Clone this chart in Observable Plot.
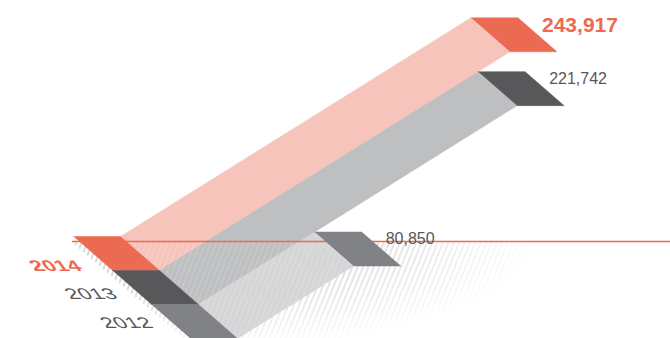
<!DOCTYPE html>
<html><head><meta charset="utf-8">
<script src="https://cdn.jsdelivr.net/npm/d3@7"></script>
<script src="https://cdn.jsdelivr.net/npm/@observablehq/plot@0.6"></script>
<style>
html,body{margin:0;padding:0;background:#fff;}
#chart{width:670px;height:338px;overflow:hidden;}
</style>
</head><body><div id="chart"></div>
<script>
// ---- data ----
const years = ["2014", "2013", "2012"];
const values = [243917, 221742, 80850];

// ---- styles ----
const tileColors = ["#EC6A52", "#58585A", "#818285"];
const bandColors = ["#F6C4BB", "#BDBFC1", "#D4D5D6"];
const labelColors = ["#EC6A52", "#58585A", "#58585A"];
const lineColor = "#EC6A52";

// ---- layout / oblique projection ----
const W = 670, H = 338;
const origin = [73, 236];      // top-left corner of first floor tile
const tileW = 47;              // tile width along x
const depth = [39, 34];        // one year step along the depth axis
const kPx = 0.001437;          // px (horizontal) per unit of value
const slope = -0.624;          // value axis direction dy/dx
const floorY = 241;
const proj = (i, w, v) => [
  origin[0] + i * depth[0] + w * tileW + v * kPx,
  origin[1] + i * depth[1] + v * kPx * slope
];
const poly = (id, color, pts) => pts.map(p => ({id, color, x: p[0], y: p[1]}));

const bands = [], tiles = [], caps = [];
years.forEach((yr, i) => {
  const v = values[i];
  tiles.push(...poly("t" + yr, tileColors[i], [proj(i,0,0), proj(i,1,0), proj(i+1,1,0), proj(i+1,0,0)]));
  bands.push(...poly("b" + yr, bandColors[i], [proj(i,1,0), proj(i,1,v), proj(i+1,1,v), proj(i+1,1,0)]));
  caps.push(...poly("c" + yr, tileColors[i], [proj(i,1,v), proj(i,2,v), proj(i+1,2,v), proj(i+1,1,v)]));
});

// floor hatch region (decorative)
const r = depth[0] / depth[1];
const fx0 = origin[0] - 7 + (floorY - origin[1]) * r;
const floor = poly("floor", "#000", [[fx0, floorY + 1], [fx0 + (H - floorY) * r, H], [640, H], [640, floorY + 1]]);

const valueLabels = years.map((yr, i) => {
  const p = proj(i, 2, values[i]);
  return {x: p[0] + 24, y: p[1] + 7, text: d3.format(",")(values[i]), color: labelColors[i], i};
});
const yearAnchor = [83, 270], yearStep = [35.5, 28.5];
const yearLabels = years.map((yr, i) => ({x: yearAnchor[0] + i * yearStep[0], y: yearAnchor[1] + i * yearStep[1], text: yr, color: labelColors[i], i}));

const polyMark = (data, cls) => Plot.line(data, {x: "x", y: "y", z: "id", fill: "color", stroke: "color", strokeWidth: 0.5, curve: "linear", className: cls});
const yearText = (data, weight) => Plot.text(data, {x: "x", y: "y", text: "text", fill: "color", textAnchor: "end", lineAnchor: "bottom", fontSize: 20, fontWeight: weight, className: "years"});

const svg = Plot.plot({
  width: W, height: H, margin: 0,
  style: {fontFamily: "'Liberation Sans', Arial, Helvetica, sans-serif", background: "#fff", overflow: "hidden"},
  x: {domain: [0, W], range: [0, W], axis: null},
  y: {domain: [0, H], range: [0, H], axis: null},
  color: {type: "identity"},
  marks: [
    Plot.line(floor, {x: "x", y: "y", fill: "#000", stroke: "none", className: "hatch"}),
    polyMark(bands, "bands"),
    Plot.line(bands, {x: "x", y: "y", z: "id", fill: "#000", stroke: "none", className: "banddots"}),
    Plot.ruleY([floorY], {x1: origin[0] - 1, x2: W, stroke: lineColor, strokeWidth: 1.3, className: "floorline"}),
    polyMark(tiles, "tiles"),
    polyMark(caps, "caps"),
    Plot.text(valueLabels.filter(d => d.i === 0), {x: "x", y: "y", text: "text", fill: "color", textAnchor: "start", lineAnchor: "middle", fontSize: 21, fontWeight: "bold"}),
    Plot.text(valueLabels.filter(d => d.i !== 0), {x: "x", y: "y", text: "text", fill: "color", textAnchor: "start", lineAnchor: "middle", fontSize: 16}),
    yearText(yearLabels.filter(d => d.i === 0), "bold"),
    yearText(yearLabels.filter(d => d.i !== 0), "normal")
  ]
});

// ---- decorative defs: hatch pattern, fade mask, floor clip ----
const s = d3.select(svg);
const defs = s.insert("defs", ":first-child");
const pat = defs.append("pattern").attr("id", "hatch").attr("patternUnits", "userSpaceOnUse")
  .attr("width", 5).attr("height", 10).attr("patternTransform", "rotate(22)");
pat.append("line").attr("x1", 1).attr("y1", 0).attr("x2", 1).attr("y2", 10)
  .attr("stroke", "#999").attr("stroke-opacity", 0.75).attr("stroke-width", 1);
const dots = defs.append("pattern").attr("id", "dots").attr("patternUnits", "userSpaceOnUse")
  .attr("width", 5).attr("height", 10).attr("patternTransform", "rotate(22)");
dots.append("line").attr("x1", 1).attr("y1", 0).attr("x2", 1).attr("y2", 10)
  .attr("stroke", "#ffffff").attr("stroke-opacity", 0.5).attr("stroke-width", 1).attr("stroke-dasharray", "1.2 1.3");
const grad = defs.append("radialGradient").attr("id", "fadeGrad").attr("gradientUnits", "userSpaceOnUse")
  .attr("cx", 150).attr("cy", floorY).attr("r", 390)
  .attr("gradientTransform", `translate(150,${floorY}) scale(1,0.29) translate(-150,${-floorY})`);
grad.append("stop").attr("offset", 0).attr("stop-color", "#fff");
grad.append("stop").attr("offset", 0.45).attr("stop-color", "#fff");
grad.append("stop").attr("offset", 1).attr("stop-color", "#000");
const mask = defs.append("mask").attr("id", "fade").attr("maskUnits", "userSpaceOnUse")
  .attr("x", 0).attr("y", 0).attr("width", W).attr("height", H);
mask.append("rect").attr("width", W).attr("height", H).attr("fill", "url(#fadeGrad)");
const clip = defs.append("clipPath").attr("id", "belowFloor");
clip.append("rect").attr("x", 0).attr("y", floorY).attr("width", W).attr("height", H - floorY);

s.selectAll("g.hatch path").attr("fill", "url(#hatch)").attr("mask", "url(#fade)");
s.selectAll("g.banddots path").attr("fill", "url(#dots)").attr("clip-path", "url(#belowFloor)");
s.selectAll("g.hatch, g.banddots").attr("fill", null);
s.selectAll("g.floorline line").attr("stroke", lineColor);

// year labels lie on the floor: skew them
s.selectAll("g.years text").each(function() {
  const t = d3.select(this);
  const ex = t.attr("transform") || "";
  const x = +(t.attr("x") || 0), y = +(t.attr("y") || 0);
  t.attr("x", null).attr("y", null)
   .attr("transform", `${ex} translate(${x},${y}) matrix(1.1,0,0.55,0.77,0,0)`);
});

document.getElementById("chart").appendChild(svg);
</script>
</body></html>
